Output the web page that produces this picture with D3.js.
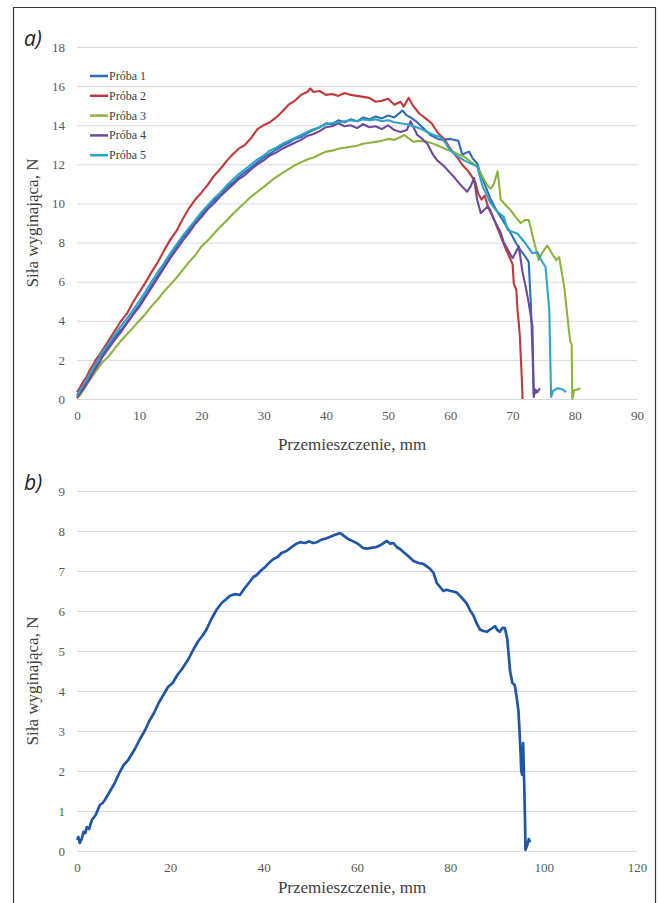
<!DOCTYPE html>
<html>
<head>
<meta charset="utf-8">
<script src="https://cdn.jsdelivr.net/npm/d3@7"></script>
<style>
  body { margin: 0; background: #fff; }
  svg { display: block; }
</style>
</head>
<body>
<div id="chart"></div>
<script>
// page size
let width = 658,
	height = 903;

// ---- data ----
let seriesNamesA = ["Próba 1", "Próba 2", "Próba 3", "Próba 4", "Próba 5"];
let seriesColorsA = ["#2f6db5", "#c0393b", "#8db33f", "#6e4a9d", "#2fa3c8"];
let xTicksA = [0, 10, 20, 30, 40, 50, 60, 70, 80, 90];
let yTicksA = [0, 2, 4, 6, 8, 10, 12, 14, 16, 18];
let xTicksB = [0, 20, 40, 60, 80, 100, 120];
let yTicksB = [0, 1, 2, 3, 4, 5, 6, 7, 8, 9];

// [przemieszczenie mm, siła N]
let proba1 = [[0,0.15],[0.5,0.35],[1,0.6],[1.5,0.85],[2,1.15],[2.5,1.4],[3,1.7],[3.5,2.05],[4,2.25],[5,2.7],[6,3.15],[7,3.5],[8,3.9],[9,4.35],[10,4.8],[11,5.3],[12,5.8],[13,6.3],[14,6.8],[15,7.3],[16,7.8],[17,8.25],[18,8.6],[19,9.05],[20,9.4],[21,9.8],[22,10.15],[23,10.4],[24,10.8],[25,11.05],[26,11.35],[27,11.6],[28,11.85],[29,12.1],[30,12.35],[31,12.55],[32,12.75],[33,12.95],[34,13.1],[35,13.3],[36,13.4],[37,13.6],[38,13.75],[39,13.9],[40,14.1],[41,14.05],[42,14.25],[43,14.15],[44,14.3],[45,14.2],[46,14.4],[47,14.3],[48,14.45],[49,14.35],[50,14.5],[51,14.4],[52.3,14.75],[53,14.5],[53.6,14.4],[54.5,14.2],[55.5,13.9],[56.8,13.5],[58,13.3],[58.9,13.25],[60,13.3],[61.3,13.2],[61.9,12.5],[63,12.65],[63.6,12.3],[64.3,12.05],[65,11.4],[65.5,11.0],[66.5,10.2],[67.5,9.6],[68.5,9.1],[69.5,8.6],[70.5,8.0],[71.3,7.6],[72,7.3],[72.6,7.0],[72.9,5.1],[73.2,2.5],[73.4,0.3],[73.7,0.3],[74,0.45]];
let proba2 = [[0,0.35],[0.5,0.6],[1,0.9],[1.5,1.1],[2,1.45],[2.5,1.7],[3,2.0],[3.5,2.2],[4,2.45],[5,2.95],[6,3.45],[7,3.95],[8,4.35],[9,4.95],[10,5.45],[11,5.95],[12,6.5],[13,7.0],[14,7.6],[15,8.15],[16,8.6],[17,9.2],[18,9.75],[19,10.2],[20,10.55],[21,10.95],[22,11.4],[23,11.75],[24,12.15],[25,12.5],[26,12.8],[27,13.0],[28,13.35],[29,13.8],[30,14.0],[31,14.15],[32,14.4],[33,14.7],[34,15.05],[35,15.25],[36,15.55],[37,15.7],[37.5,15.88],[38,15.7],[39,15.75],[40,15.55],[41,15.6],[42,15.5],[43,15.65],[44,15.55],[45,15.5],[46,15.45],[47,15.4],[48,15.2],[49,15.25],[50,15.35],[51,15.05],[52,15.2],[52.5,14.95],[53.3,15.4],[54,15.0],[55,14.6],[56,14.35],[57,14.1],[58,13.6],[59,13.3],[60,12.8],[61,12.4],[62,11.95],[63,11.6],[64,11.1],[64.5,10.5],[65,10.2],[65.5,10.4],[66,9.9],[66.5,9.6],[67,9.2],[68,8.4],[68.5,8.0],[69,7.6],[70,6.9],[70.2,5.9],[70.6,5.6],[70.8,4.5],[71,3.9],[71.2,3.1],[71.3,2.3],[71.5,1.0],[71.6,0]];
let proba3 = [[0,0.05],[0.5,0.2],[1,0.45],[1.5,0.7],[2,0.95],[3,1.4],[4,1.85],[5,2.15],[6,2.55],[7,2.95],[8,3.3],[9,3.65],[10,4.0],[11,4.35],[12,4.75],[13,5.1],[14,5.5],[15,5.85],[16,6.2],[17,6.6],[18,7.0],[19,7.35],[20,7.8],[21,8.1],[22,8.45],[23,8.8],[24,9.1],[25,9.45],[26,9.75],[27,10.05],[28,10.35],[29,10.6],[30,10.85],[31,11.1],[32,11.35],[33,11.55],[34,11.75],[35,11.95],[36,12.1],[37,12.25],[38,12.35],[39,12.5],[40,12.65],[41,12.7],[42,12.8],[43,12.85],[44,12.9],[45,12.95],[46,13.05],[47,13.1],[48,13.15],[49,13.2],[50,13.3],[51,13.25],[52,13.4],[52.6,13.5],[53.2,13.35],[54.1,13.15],[55,13.2],[56.3,13.15],[57.3,13.05],[58.4,12.9],[59.5,12.75],[60.5,12.65],[61.3,12.5],[62.2,12.4],[63.2,12.15],[64.3,11.9],[65.2,11.35],[66,10.9],[66.5,10.75],[67,11.0],[67.6,11.65],[68.1,10.2],[68.8,9.95],[69.7,9.65],[70.5,9.3],[71.3,9.0],[72,9.15],[72.6,9.15],[73.4,8.1],[74.2,7.1],[74.8,7.5],[75.6,7.85],[76.3,7.45],[77,7.1],[77.5,7.25],[78.3,5.75],[79.1,3.4],[79.3,2.9],[79.5,2.8],[79.6,0],[79.9,0.45],[80.5,0.5],[80.9,0.55]];
let proba4 = [[0,0.05],[0.5,0.3],[1,0.5],[1.5,0.75],[2,1.0],[2.5,1.3],[3,1.55],[3.5,1.8],[4,2.1],[5,2.55],[6,3.0],[7,3.4],[8,3.85],[9,4.3],[10,4.7],[11,5.2],[12,5.7],[13,6.2],[14,6.7],[15,7.2],[16,7.65],[17,8.1],[18,8.5],[19,8.95],[20,9.3],[21,9.7],[22,10.0],[23,10.35],[24,10.65],[25,10.95],[26,11.25],[27,11.45],[28,11.75],[29,12.0],[30,12.2],[31,12.45],[32,12.6],[33,12.8],[34,12.95],[35,13.1],[36,13.25],[37,13.45],[38,13.55],[39,13.7],[40,13.9],[41,13.95],[42,14.1],[43,13.95],[44,14.0],[45,13.85],[46,14.05],[47,13.9],[48,13.95],[49,13.8],[50,14.0],[51,13.75],[52,13.65],[53,13.75],[53.6,14.2],[54.7,13.5],[55.5,13.3],[56.3,13.05],[57.2,12.5],[57.9,12.2],[59,11.9],[60,11.55],[60.6,11.35],[61.5,11.0],[62.7,10.6],[63.3,10.9],[63.8,11.3],[64.3,10.2],[64.9,9.5],[66,9.85],[67,9.2],[68.1,8.5],[68.6,8.0],[70,7.2],[71,7.8],[71.6,6.5],[72.2,5.6],[72.6,4.9],[73.2,3.7],[73.4,0.1],[73.6,0.5],[74,0.35],[74.4,0.55]];
let proba5 = [[0,0.2],[0.5,0.45],[1,0.7],[1.5,0.95],[2,1.25],[2.5,1.5],[3,1.8],[3.5,2.05],[4,2.35],[5,2.8],[6,3.25],[7,3.7],[8,4.1],[9,4.55],[10,5.0],[11,5.5],[12,6.0],[13,6.5],[14,6.95],[15,7.45],[16,7.9],[17,8.35],[18,8.75],[19,9.15],[20,9.55],[21,9.9],[22,10.25],[23,10.55],[24,10.9],[25,11.2],[26,11.5],[27,11.75],[28,12.0],[29,12.25],[30,12.45],[31,12.7],[32,12.85],[33,13.05],[34,13.2],[35,13.35],[36,13.5],[37,13.65],[38,13.8],[39,13.9],[40,14.05],[41,14.1],[42,14.15],[43,14.2],[44,14.25],[45,14.2],[46,14.3],[47,14.25],[48,14.3],[49,14.2],[50,14.25],[51,14.15],[52,14.1],[53,14.05],[54,13.95],[55,13.85],[56.3,13.65],[57.3,13.5],[58.4,13.4],[59.2,13.1],[60,12.7],[61,12.45],[62.2,12.2],[63.2,12.05],[64.3,11.9],[65.2,10.85],[66.5,10.0],[67.5,9.6],[68.6,9.3],[69.2,8.65],[70.8,8.45],[72.1,7.95],[73.2,7.45],[74,7.5],[74.8,7.0],[75.3,6.75],[75.9,4.55],[76.2,0.1],[76.5,0.4],[77.2,0.55],[78,0.5],[78.6,0.35]];

let probaB = [[0,0.28],[0.3,0.35],[0.6,0.2],[1,0.3],[1.4,0.48],[1.8,0.45],[2.1,0.6],[2.6,0.55],[3.2,0.78],[4,0.9],[4.9,1.15],[5.5,1.2],[6,1.28],[7.1,1.5],[8,1.68],[9.2,1.98],[10,2.15],[11,2.28],[12.4,2.55],[13.5,2.8],[14.5,3.0],[15.5,3.25],[16.5,3.45],[17.5,3.7],[18.5,3.9],[19.5,4.1],[20.5,4.2],[21.5,4.4],[22.5,4.55],[23.9,4.8],[25,5.05],[26,5.25],[27,5.4],[27.8,5.55],[28.8,5.8],[29.9,6.03],[31,6.2],[32,6.3],[32.8,6.38],[33.8,6.42],[34.9,6.4],[35.8,6.55],[36.8,6.7],[37.8,6.85],[38.5,6.9],[39.5,7.02],[40.5,7.12],[41.3,7.22],[42.1,7.3],[43,7.35],[43.8,7.45],[44.9,7.5],[46,7.6],[47,7.68],[47.8,7.72],[48.8,7.7],[49.8,7.74],[50.6,7.7],[51.4,7.72],[52.3,7.78],[53.5,7.82],[54.4,7.86],[55.2,7.9],[56.4,7.95],[57.2,7.88],[58.1,7.8],[59.2,7.74],[60.2,7.68],[61.2,7.58],[62.1,7.56],[63.1,7.58],[64.2,7.6],[65.2,7.66],[66.4,7.75],[67.1,7.68],[67.8,7.7],[68.5,7.6],[69.2,7.55],[70.2,7.45],[71.2,7.35],[72.1,7.25],[73.2,7.2],[74.2,7.18],[74.9,7.12],[75.7,7.05],[76.4,6.95],[77.1,6.7],[77.8,6.6],[78.5,6.5],[79.2,6.53],[80.1,6.5],[80.8,6.48],[81.4,6.46],[82.3,6.35],[83.5,6.19],[84.3,6.0],[84.9,5.9],[85.6,5.7],[86.4,5.53],[87.1,5.5],[87.8,5.48],[88.7,5.55],[89.6,5.62],[90.1,5.52],[90.6,5.48],[91.2,5.58],[91.7,5.57],[92.2,5.3],[92.8,4.5],[93.3,4.2],[93.8,4.15],[94.2,3.85],[94.6,3.5],[95,2.6],[95.2,2.0],[95.4,1.9],[95.6,2.7],[95.8,1.8],[96,0.8],[96.1,0.03],[96.5,0.15],[96.8,0.3],[97.1,0.22]];

let seriesA = [proba1, proba2, proba3, proba4, proba5];

let svg = d3.select("#chart").append("svg")
	.attr("width", width)
	.attr("height", height);

// outer frame (page border)
svg.append("path")
	.attr("d", "M13.5,903 L13.5,7.5 L655.5,7.5 L655.5,903")
	.attr("fill", "none")
	.attr("stroke", "#3a3a3a")
	.attr("stroke-width", 1.2);

let serif = "'Liberation Serif', 'Times New Roman', serif";

function drawPanel(cfg) {
	let x = d3.scaleLinear().domain(cfg.xDomain).range([cfg.left, cfg.right]);
	let y = d3.scaleLinear().domain(cfg.yDomain).range([cfg.bottom, cfg.top]);

	let yaxis = d3.axisLeft(y)
		.tickValues(cfg.yTicks)
		.tickSize(-(cfg.right - cfg.left))
		.tickPadding(12);
	let xaxis = d3.axisBottom(x)
		.tickValues(cfg.xTicks)
		.tickSize(0)
		.tickPadding(12);

	let gy = svg.append("g")
		.attr("class", "y-axis axis")
		.attr("transform", "translate(" + cfg.left + ",0)")
		.call(yaxis);
	gy.select(".domain").remove();
	gy.selectAll("line").attr("stroke", "#d9d9d9").attr("stroke-width", 1);
	gy.selectAll("text")
		.style("font-family", serif)
		.style("font-size", "13px")
		.attr("fill", "#595959");

	let gx = svg.append("g")
		.attr("class", "x-axis axis")
		.attr("transform", "translate(0," + cfg.bottom + ")")
		.call(xaxis);
	gx.select(".domain").remove();
	gx.selectAll("text")
		.style("font-family", serif)
		.style("font-size", "13px")
		.attr("fill", "#595959");

	let line = d3.line()
		.x(d => x(d[0]))
		.y(d => y(d[1]));

	cfg.series.forEach((s, i) => {
		svg.append("path")
			.datum(s)
			.attr("fill", "none")
			.attr("stroke", cfg.colors[i])
			.attr("stroke-width", cfg.lineWidth)
			.attr("stroke-linejoin", "round")
			.attr("d", line);
	});

	// axis titles
	svg.append("text")
		.attr("x", (cfg.left + cfg.right) / 2 - 5)
		.attr("y", cfg.bottom + cfg.titleGap)
		.attr("text-anchor", "middle")
		.style("font-family", serif)
		.style("font-size", "17px")
		.attr("fill", "#404040")
		.text("Przemieszczenie, mm");

	svg.append("text")
		.attr("transform", "translate(38," + ((cfg.top + cfg.bottom) / 2 + cfg.yTitleShift) + ") rotate(-90)")
		.attr("text-anchor", "middle")
		.style("font-family", serif)
		.style("font-size", "17px")
		.attr("fill", "#404040")
		.text("Siła wyginająca, N");

	// panel letter
	svg.append("text")
		.attr("x", 24)
		.attr("y", cfg.top - 1)
		.style("font-family", "'Open Sans', 'DejaVu Sans', sans-serif")
		.style("font-style", "italic")
		.style("font-size", "21px")
		.attr("fill", "#222")
		.text(cfg.letter);

	return {x: x, y: y};
}

drawPanel({
	left: 77, right: 637, top: 47, bottom: 399,
	xDomain: [0, 90], yDomain: [0, 18],
	xTicks: xTicksA, yTicks: yTicksA,
	series: seriesA, colors: seriesColorsA,
	lineWidth: 2.1, letter: "a)", titleGap: 51, yTitleShift: 0
});

drawPanel({
	left: 77, right: 637, top: 491, bottom: 851,
	xDomain: [0, 120], yDomain: [0, 9],
	xTicks: xTicksB, yTicks: yTicksB,
	series: [probaB], colors: ["#1f56a6"],
	lineWidth: 2.7, letter: "b)", titleGap: 42, yTitleShift: 10
});

// legend for panel a
let legend = svg.append("g")
	.attr("transform", "translate(90,76)");
let rows = legend.selectAll("g")
	.data(seriesNamesA)
	.enter()
	.append("g")
	.attr("transform", (d, i) => "translate(0," + (i * 19.8) + ")");
rows.append("line")
	.attr("x1", 0).attr("x2", 18)
	.attr("y1", 0).attr("y2", 0)
	.attr("stroke", (d, i) => seriesColorsA[i])
	.attr("stroke-width", 2.5);
rows.append("text")
	.attr("x", 19)
	.attr("y", 4)
	.style("font-family", serif)
	.style("font-size", "12px")
	.attr("fill", "#404040")
	.text(d => d);
</script>
</body>
</html>
